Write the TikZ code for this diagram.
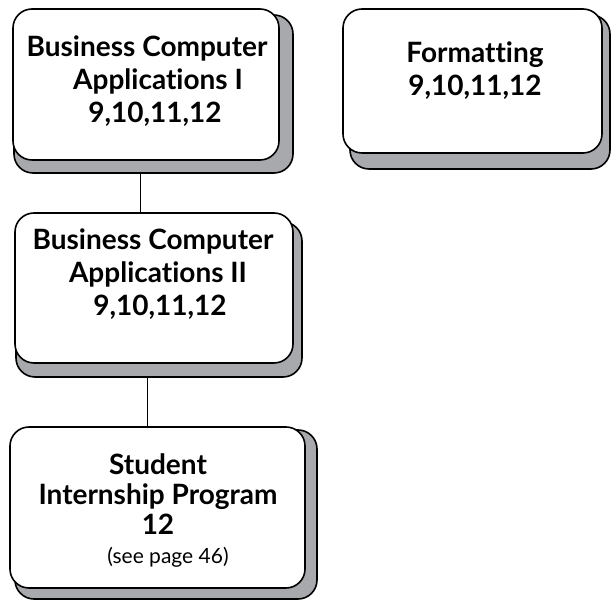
\documentclass[tikz,border=0pt]{standalone}
\usepackage{fontspec}
\setmainfont{Lato}[Ligatures=NoCommon]
\definecolor{shadowgray}{HTML}{A7A9AC}

\begin{document}
\begin{tikzpicture}[x=1pt,y=-1pt,
  card/.style={draw, line width=1.6pt, rounded corners=19pt, fill=white, inner sep=0pt},
  cardshadow/.style={card, fill=shadowgray},
  cardtext/.style={anchor=north, align=center, inner sep=0pt, font=\fontsize{28}{33}\selectfont\bfseries},
  link/.style={draw, line width=0.8pt}]
\useasboundingbox (0,0) rectangle (611,601);
% shadows
\node [cardshadow, minimum width=279pt, minimum height=158pt] (bcaIsh) at (153.5,94) {};
\node [cardshadow, minimum width=260pt, minimum height=154pt] (fmtsh) at (480,92) {};
\node [cardshadow, minimum width=286pt, minimum height=155pt] (bcaIIsh) at (159,299.5) {};
\node [cardshadow, minimum width=302pt, minimum height=169pt] (internsh) at (166,514.5) {};
% cards
\node [card, minimum width=266pt, minimum height=151pt] (bcaI) at (146,84.5) {};
\node [card, minimum width=259pt, minimum height=144pt] (fmt) at (472.5,81) {};
\node [card, minimum width=278pt, minimum height=150pt] (bcaII) at (154,288) {};
\node [card, minimum width=295pt, minimum height=161pt] (intern) at (157.5,507.5) {};
% texts
\node [cardtext] (bcaItxt) at (147,36) {Business Computer\\ \hspace*{22pt}Applications I\\ \hspace*{16pt}9,10,11,12};
\node [cardtext] (fmttxt) at (475,42) {Formatting\\ 9,10,11,12};
\node [cardtext] (bcaIItxt) at (153,229) {Business Computer\\ \hspace*{10pt}Applications II\\ \hspace*{14pt}9,10,11,12};
\node [cardtext] (interntxt) at (158,453) {Student\\[-3pt] Internship Program\\[-3pt] 12\\[-4pt] \hspace*{20pt}{\mdseries\fontsize{21}{24}\selectfont (see page 46)}};
% links
\path [link] ([xshift=-6pt]bcaI.south |- bcaIsh.south) -- ([xshift=-6pt]bcaI.south |- bcaII.north);
\path [link] ([xshift=-7pt]bcaII.south |- bcaIIsh.south) -- ([xshift=-7pt]bcaII.south |- intern.north);
\end{tikzpicture}
\end{document}
